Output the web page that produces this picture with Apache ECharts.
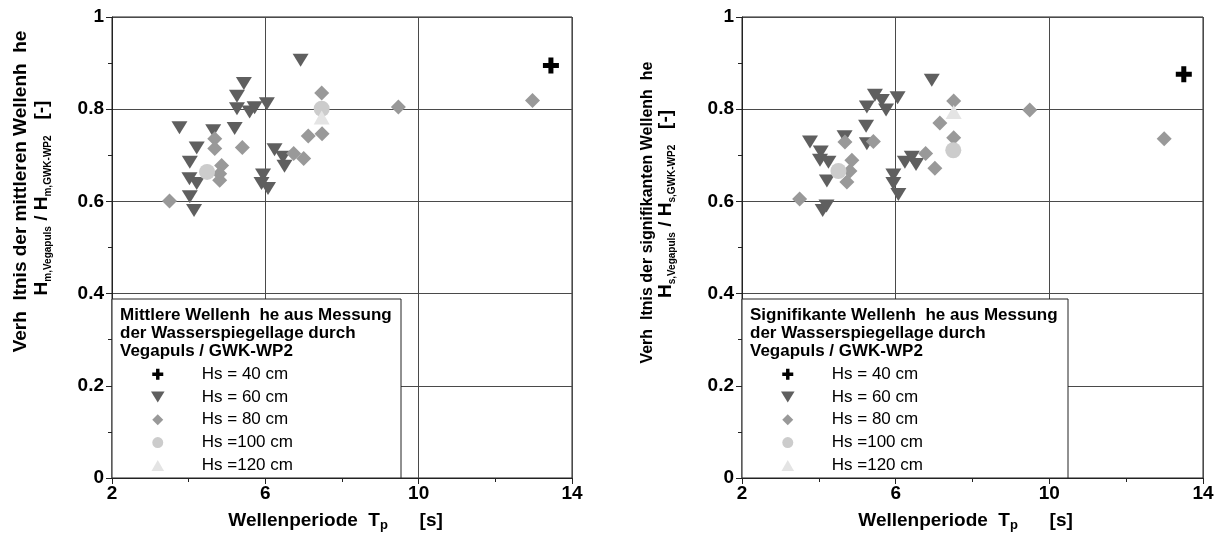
<!DOCTYPE html>
<html><head><meta charset="utf-8">
<script src="https://cdn.jsdelivr.net/npm/echarts@6/dist/echarts.min.js"></script>
<style>html,body{margin:0;padding:0;background:#fff}#c{width:1222px;height:537px}</style>
</head><body><div id="c"></div><script>
// ---- data ----
const seriesNames = ['Hs = 40 cm', 'Hs = 60 cm', 'Hs = 80 cm', 'Hs =100 cm', 'Hs =120 cm'];
const xTickValues = [2, 6, 10, 14];
const yTickValues = [0, 0.2, 0.4, 0.6, 0.8, 1];

const left40 = [[13.45, 0.895]];
const left60 = [[6.92,0.906],[5.44,0.856],[5.26,0.828],[5.26,0.801],[5.59,0.794],[5.72,0.803],[6.04,0.812],
  [3.76,0.760],[4.64,0.753],[5.20,0.758],[4.21,0.716],[4.03,0.685],[4.02,0.649],[4.21,0.639],[4.03,0.610],
  [4.14,0.580],[6.24,0.712],[6.46,0.696],[6.50,0.676],[5.94,0.657],[5.90,0.639],[6.07,0.628]];
const left80 = [[7.47,0.835],[9.47,0.805],[7.12,0.742],[7.48,0.747],[6.74,0.704],[7.00,0.693],[4.68,0.736],
  [4.68,0.715],[5.40,0.717],[4.86,0.678],[4.81,0.660],[4.81,0.646],[3.50,0.601],[12.97,0.819]];
const left100 = [[4.48,0.664],[7.47,0.801]];
const left120 = [[7.47,0.782]];

const right40 = [[13.50, 0.876]];
const right60 = [[6.94,0.863],[5.46,0.830],[5.64,0.819],[6.05,0.825],[5.25,0.805],[5.75,0.798],[5.23,0.763],
  [5.25,0.725],[4.67,0.740],[3.77,0.729],[4.05,0.707],[4.03,0.689],[4.25,0.685],[4.21,0.644],[4.10,0.580],
  [4.20,0.590],[6.24,0.685],[6.42,0.696],[6.53,0.680],[5.94,0.657],[5.94,0.639],[6.07,0.615]];
const right80 = [[4.68,0.729],[5.42,0.730],[4.86,0.689],[4.81,0.666],[4.73,0.642],[3.50,0.605],[7.51,0.818],
  [7.15,0.770],[7.51,0.738],[6.78,0.704],[7.02,0.672],[9.49,0.798],[12.99,0.736]];
const right100 = [[4.51,0.666],[7.50,0.711]];
const right120 = [[7.51,0.794]];

// ---- styling ----
const FONT = "'Liberation Sans', Arial, sans-serif";
const CROSS = 'path://M5.5,0H10.5V5.5H16V10.5H10.5V16H5.5V10.5H0V5.5H5.5Z';
const TRI_DOWN = 'path://M0,0L16,0L8,13Z';
const DIAMOND = 'path://M8,0L16,8L8,16L0,8Z';
const TRI_UP = 'path://M8,0L16,14L0,14Z';
const CIRCLE = 'path://M8,0A8,8,0,1,1,7.99,0Z';
const styles = [
  {symbol: CROSS, size: [16,16], color: '#000000'},
  {symbol: TRI_DOWN, size: [16,13], color: '#5f5f5f'},
  {symbol: DIAMOND, size: [15,15], color: '#999999'},
  {symbol: 'circle', size: 16, color: '#cccccc'},
  {symbol: TRI_UP, size: [16,14], color: '#e4e4e4'}
];

function xAxis(gi) {
  return {
    type: 'value', gridIndex: gi, min: xTickValues[0], max: xTickValues[xTickValues.length-1], interval: 4,
    axisLine: {show: true, onZero: false, lineStyle: {color: '#222', width: 1}},
    axisTick: {show: true, length: 6, lineStyle: {color: '#222'}},
    minorTick: {show: true, splitNumber: 2, length: 4, lineStyle: {color: '#222'}},
    splitLine: {show: true, lineStyle: {color: '#4a4a4a', width: 1}},
    axisLabel: {color: '#000', fontSize: 19, fontWeight: 'bold', fontFamily: FONT, margin: 6}
  };
}
function yAxis(gi) {
  return {
    type: 'value', gridIndex: gi, min: yTickValues[0], max: yTickValues[yTickValues.length-1], interval: 0.2,
    axisLine: {show: true, onZero: false, lineStyle: {color: '#222', width: 1}},
    axisTick: {show: true, length: 6, lineStyle: {color: '#222'}},
    minorTick: {show: true, splitNumber: 2, length: 4, lineStyle: {color: '#222'}},
    splitLine: {show: true, lineStyle: {color: '#4a4a4a', width: 1}},
    axisLabel: {color: '#000', fontSize: 19, fontWeight: 'bold', fontFamily: FONT, margin: 8}
  };
}

const leftData = [left40, left60, left80, left100, left120];
const rightData = [right40, right60, right80, right100, right120];
const series = [];
[leftData, rightData].forEach((set, gi) => {
  set.forEach((d, i) => {
    series.push({
      type: 'scatter', name: seriesNames[i], xAxisIndex: gi, yAxisIndex: gi, data: d,
      symbol: styles[i].symbol, symbolSize: styles[i].size,
      itemStyle: {color: styles[i].color, opacity: 1},
      emphasis: {disabled: true}, z: 2 + i
    });
  });
});

const legendIcons = [CROSS, TRI_DOWN, DIAMOND, CIRCLE, TRI_UP];
function legendComp(left) {
  return {
    orient: 'vertical', left: left, top: 365.7, padding: 0, itemWidth: 78, itemHeight: 11, itemGap: 5.8,
    selectedMode: false, z: 20, symbolKeepAspect: true,
    data: seriesNames.map((n, i) => ({name: n, icon: legendIcons[i]})),
    textStyle: {color: '#000', fontSize: 17, fontFamily: FONT, lineHeight: 17}
  };
}

const subRich = {
  sub: {fontSize: 10, fontWeight: 'bold', fontFamily: FONT, fill: '#000', color: '#000', verticalAlign: 'bottom', lineHeight: 12},
  subp: {fontSize: 13, fontWeight: 'bold', fontFamily: FONT, fill: '#000', color: '#000', verticalAlign: 'bottom', lineHeight: 14}
};
function txt(x, y, text, size, rot, align) {
  return {
    type: 'text', x: x, y: y, rotation: rot || 0, z: 30,
    style: {
      text: text, fontSize: size, fontWeight: 'bold', fontFamily: FONT, fill: '#000',
      align: align || 'center', textAlign: align || 'center', verticalAlign: 'middle', textVerticalAlign: 'middle',
      lineHeight: 22, rich: subRich
    }
  };
}
function legendBox(x, w, title) {
  return [
    {type: 'rect', z: 10, shape: {x: x, y: 299, width: w, height: 179},
     style: {fill: '#fff', stroke: '#222', lineWidth: 1}},
    {type: 'text', z: 30, x: 120 + (x - 112), y: 305.8,
     style: {text: title, fontSize: 17, fontWeight: 'bold', fontFamily: FONT, fill: '#000', lineHeight: 18.4,
             align: 'left', textAlign: 'left', verticalAlign: 'top', textVerticalAlign: 'top'}}
  ];
}

const option = {
  animation: false,
  backgroundColor: '#fff',
  grid: [
    {left: 112, top: 17, width: 460, height: 461, show: true, borderColor: '#222', borderWidth: 1, backgroundColor: 'transparent'},
    {left: 742, top: 17, width: 461, height: 461, show: true, borderColor: '#222', borderWidth: 1, backgroundColor: 'transparent'}
  ],
  xAxis: [xAxis(0), xAxis(1)],
  yAxis: [yAxis(0), yAxis(1)],
  legend: [legendComp(151), legendComp(781)],
  series: series,
  graphic: [
    ...legendBox(112, 289, 'Mittlere Wellenh  he aus Messung\nder Wasserspiegellage durch\nVegapuls / GWK-WP2'),
    ...legendBox(742, 326, 'Signifikante Wellenh  he aus Messung\nder Wasserspiegellage durch\nVegapuls / GWK-WP2'),
    txt(228.3, 521, 'Wellenperiode  T{subp|p}      [s]', 19, 0, 'left'),
    txt(858.3, 521, 'Wellenperiode  T{subp|p}      [s]', 19, 0, 'left'),
    txt(20.5, 191.5, 'Verh  ltnis der mittleren Wellenh  he', 19, Math.PI / 2),
    txt(42, 198, 'H{sub|m,Vegapuls} / H{sub|m,GWK-WP2}   [-]', 19, Math.PI / 2),
    txt(648, 212.6, 'Verh  ltnis der signifikanten Wellenh  he', 16, Math.PI / 2),
    txt(666, 204, 'H{sub|s,Vegapuls} / H{sub|s,GWK-WP2}   [-]', 19, Math.PI / 2)
  ]
};
const chart = echarts.init(document.getElementById('c'), null, {renderer: 'canvas'});
chart.setOption(option);
</script></body></html>
